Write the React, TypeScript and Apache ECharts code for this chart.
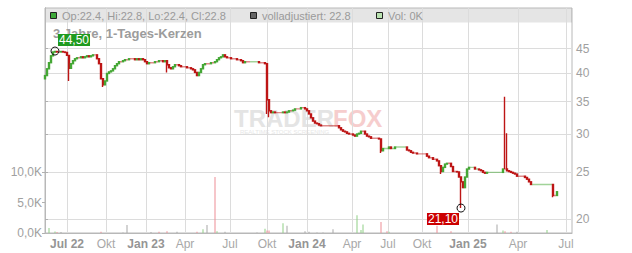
import React, { useEffect, useRef } from "react";
import * as echarts from "echarts";

// ---- data ----
// one candle per sample (≈ 2 trading days), sample index = x value
const firstOpen = 39.0;
const closes: number[] = [
  39.6, 40.9, 42.1, 43.5, 44.3, 44.4, 44.3, 44.3, 44.4, 44.3,
  44.2, 43.6, 41.0, 41.9, 42.5, 42.9, 43.1, 43.1, 43.3, 43.1,
  43.3, 43.5, 43.3, 43.5, 43.7, 43.7, 42.9, 41.9, 39.0, 37.9,
  38.6, 40.0, 40.3, 40.5, 40.9, 41.5, 41.9, 42.3, 42.3, 42.5,
  42.7, 42.7, 42.9, 42.9, 42.9, 42.7, 42.9, 42.7, 42.9, 42.7,
  42.3, 41.9, 42.1, 42.1, 42.1, 42.3, 42.3, 42.5, 42.5, 42.3,
  42.5, 41.7, 41.1, 40.9, 41.3, 41.7, 41.7, 41.5, 41.3, 41.3,
  41.3, 41.1, 41.1, 40.9, 40.7, 40.2, 39.6, 40.2, 40.9, 41.7,
  41.9, 41.9, 41.9, 42.1, 42.1, 42.3, 42.7, 43.1, 43.3, 43.7,
  43.3, 43.1, 43.1, 42.9, 42.9, 42.9, 42.7, 42.7, 42.5, 42.1,
  42.3, 42.3, 42.3, 42.3, 42.3, 42.3, 42.3, 42.1, 42.1, 42.1,
  41.9, 35.3, 33.5, 33.2, 33.3, 33.2, 33.2, 33.2, 33.2, 33.3,
  33.2, 33.3, 33.5, 33.5, 33.6, 33.8, 33.8, 33.8, 34.0, 34.0,
  33.8, 33.5, 33.0, 32.4, 31.9, 31.6, 31.5, 31.3, 31.2, 31.2,
  31.2, 31.2, 31.2, 31.2, 31.2, 31.2, 31.2, 30.9, 30.6, 30.4,
  30.3, 30.1, 30.0, 30.0, 29.85, 29.7, 30.0, 30.1, 30.4, 30.4,
  30.0, 29.7, 29.6, 29.4, 29.4, 29.4, 29.4, 29.3, 27.7, 28.0,
  28.0, 28.0, 28.2, 28.0, 28.0, 28.2, 28.2, 28.2, 28.2, 28.2,
  28.2, 27.8, 27.7, 27.5, 27.4, 27.4, 27.3, 27.3, 27.3, 27.3,
  27.3, 27.0, 26.8, 26.8, 26.6, 26.6, 26.4, 25.8, 25.1, 25.6,
  26.0, 26.1, 26.1, 25.7, 25.1, 25.1, 25.05, 24.45, 23.9, 23.25,
  24.45, 25.4, 25.6, 25.6, 25.6, 25.4, 25.4, 25.3, 25.2, 25.0,
  24.9, 25.0, 25.0, 25.0, 25.0, 25.0, 25.0, 25.0, 25.0, 25.4,
  25.4, 25.2, 25.1, 25.0, 24.9, 24.8, 24.55, 24.55, 24.55, 24.55,
  24.4, 24.2, 23.9, 23.6, 23.6, 23.6, 23.6, 23.6, 23.6, 23.6,
  23.6, 23.6, 23.6, 23.6, 22.4, 22.4, 22.8,
];
const wickLows: [number, number][] = [
  [12, 38.6], [29, 37.5], [61, 40.2], [111, 33.0], [112, 32.5],
  [168, 27.4], [198, 24.8], [208, 21.1], [254, 22.2],
];
const wickHighs: [number, number][] = [
  [5, 44.5], [111, 41.9], [230, 35.8], [231, 30.1],
];
// flat (unchanged) stretches that the reference draws green
const greenFlatRanges: [number, number][] = [
  [103, 106], [169, 180], [212, 216], [221, 228], [244, 253],
];

// volume (thousands), sample index, direction u/d/n
const volIdx = [2, 5, 6, 8, 28, 39, 41, 53, 57, 61, 66, 76, 79, 81, 85, 86, 90, 106, 110, 111, 112, 119, 121, 130, 132, 136, 139, 144, 156, 158, 159, 168, 171, 172, 196, 203, 226, 229, 230, 233, 236, 251];
const volK = [0.8, 0.25, 0.15, 0.15, 0.2, 0.1, 1.3, 0.15, 0.2, 0.3, 0.2, 0.2, 0.6, 1.3, 9.2, 0.3, 0.2, 0.1, 0.7, 0.4, 0.4, 1.6, 1.2, 0.3, 0.2, 0.1, 0.1, 0.6, 2.9, 0.5, 1.4, 1.8, 0.3, 0.2, 1.2, 0.3, 1.4, 0.4, 0.3, 0.2, 0.2, 0.5];
const volDir = ["u", "u", "d", "n", "d", "n", "n", "n", "d", "d", "n", "d", "u", "n", "d", "u", "n", "n", "u", "d", "d", "u", "n", "n", "n", "n", "n", "n", "u", "u", "u", "d", "d", "u", "d", "d", "n", "u", "d", "d", "n", "u"];

// axes
const monthTickIdx = [11, 30.5, 50.5, 70, 92.5, 111, 131, 153.5, 171.5, 188.5, 211.5, 236.5, 260.5];
const monthTickLabels = ["Jul 22", "Okt", "Jan 23", "Apr", "Jul", "Okt", "Jan 24", "Apr", "Jul", "Okt", "Jan 25", "Apr", "Jul"];
const priceTicks = [20, 25, 30, 35, 40, 45];
const volTicksK = [0, 5, 10];
const priceMin = 18.74;
const priceMax = 54.6;
const volMaxK = 36.9;
const xMin = 0;
const xMax = 263.5;

// ---- build ----
const lg = (v: number) => Math.log10(v);
const GREEN = "#45a735";
const RED = "#bd1515";
const FONT = "Liberation Sans, Arial, sans-serif";

const ohlc = closes.map((c, i) => {
  const o = i === 0 ? firstOpen : closes[i - 1];
  let lo = Math.min(o, c);
  let hi = Math.max(o, c);
  wickLows.forEach(([j, v]) => { if (j === i) lo = Math.min(lo, v); });
  wickHighs.forEach(([j, v]) => { if (j === i) hi = Math.max(hi, v); });
  return { o, c, lo, hi };
});
const isGreenFlat = (i: number) => greenFlatRanges.some(([a, b]) => i >= a && i <= b);
const candles = ohlc.map((d, i) => {
  const value = [i, lg(d.o), lg(d.c), lg(d.lo), lg(d.hi)];
  return isGreenFlat(i) ? { value, itemStyle: { borderColorDoji: GREEN } } : { value };
});

let hiIdx = 0, loIdx = 0;
ohlc.forEach((d, i) => {
  if (d.hi > ohlc[hiIdx].hi) hiIdx = i;
  if (d.lo < ohlc[loIdx].lo) loIdx = i;
});
const fmtDe = (v: number) => v.toFixed(2).replace(".", ",");

const volColor: Record<string, string> = { u: "#8fcf86", d: "#ee8e96", n: "#a8a8a8" };
const volData = volIdx.map((i, k) => ({
  value: [i, volK[k]],
  itemStyle: { color: volColor[volDir[k]] },
}));

const last = ohlc[ohlc.length - 1];
const lastVolK = volIdx.includes(closes.length - 1) ? volK[volIdx.indexOf(closes.length - 1)] : 0;
const legend1 = `Op:${last.o.toFixed(1)}, Hi:${last.hi.toFixed(1)}, Lo:${last.lo.toFixed(1)}, Cl:${last.c.toFixed(1)}`;
const legend2 = `volladjustiert: ${last.c.toFixed(1)}`;
const legend3 = `Vol: ${lastVolK}K`;

const option: any = {
  animation: false,
  textStyle: { fontFamily: FONT },
  title: {
    text: "3 Jahre, 1-Tages-Kerzen",
    left: 53,
    top: 27,
    padding: 0,
    z: 1,
    textStyle: { color: "#9c9c9c", fontSize: 13, fontWeight: "bold", fontFamily: FONT },
  },
  grid: {
    left: 45, right: 60, top: 8, bottom: 20,
    show: true, borderColor: "#b8b8b8", borderWidth: 1, backgroundColor: "transparent",
  },
  xAxis: {
    type: "value",
    min: xMin,
    max: xMax,
    axisLine: { show: true, lineStyle: { color: "#b8b8b8" } },
    axisTick: { show: false, customValues: monthTickIdx },
    splitLine: { show: true, lineStyle: { color: "#dcdcdc", width: 1 } },
    axisLabel: {
      customValues: monthTickIdx,
      margin: 5,
      fontSize: 12,
      formatter: (v: number) => {
        const k = monthTickIdx.findIndex((t) => Math.abs(t - v) < 0.01);
        const lab = k >= 0 ? monthTickLabels[k] : "";
        return /\d/.test(lab) ? `{b|${lab}}` : `{n|${lab}}`;
      },
      rich: {
        b: { fontWeight: "bold", color: "#959595", fontSize: 12, fontFamily: FONT },
        n: { color: "#a8a8a8", fontSize: 12, fontFamily: FONT },
      },
    },
  },
  yAxis: [
    {
      type: "value",
      position: "right",
      min: lg(priceMin),
      max: lg(priceMax),
      axisLine: { show: true, lineStyle: { color: "#b0b0b0" } },
      axisTick: { show: true, length: 3, customValues: priceTicks.map(lg), lineStyle: { color: "#b0b0b0" } },
      splitLine: { show: true, lineStyle: { color: "#dcdcdc", width: 1 } },
      axisLabel: {
        customValues: priceTicks.map(lg),
        margin: 4,
        color: "#a0a0a0",
        fontSize: 12,
        formatter: (v: number) => String(Math.round(Math.pow(10, v))),
      },
    },
    {
      type: "value",
      position: "left",
      min: 0,
      max: volMaxK,
      axisLine: { show: true, lineStyle: { color: "#b8b8b8" } },
      axisTick: { show: true, length: 3, customValues: volTicksK, lineStyle: { color: "#b0b0b0" } },
      splitLine: { show: false },
      axisLabel: {
        customValues: volTicksK,
        margin: 3,
        color: "#a0a0a0",
        fontSize: 12,
        formatter: (v: number) => v.toFixed(1).replace(".", ",") + "K",
      },
    },
  ],
  graphic: [
    { type: "rect", z: 0, shape: { x: 45, y: 8.5, width: 527, height: 14 }, style: { fill: "rgba(0,0,0,0.1)" } },
    { type: "rect", z: 1, shape: { x: 50.5, y: 12.5, width: 6, height: 6 }, style: { fill: "#3ea93a", stroke: "#222", lineWidth: 1 } },
    { type: "text", z: 1, x: 62, y: 16, style: { text: legend1, fill: "#9a9a9a", fontSize: 11, fontFamily: FONT, verticalAlign: "middle" } },
    { type: "rect", z: 1, shape: { x: 250.5, y: 12.5, width: 6, height: 6 }, style: { fill: "#666", stroke: "#222", lineWidth: 1 } },
    { type: "text", z: 1, x: 262, y: 16, style: { text: legend2, fill: "#9a9a9a", fontSize: 11, fontFamily: FONT, verticalAlign: "middle" } },
    { type: "rect", z: 1, shape: { x: 376.5, y: 12.5, width: 6, height: 6 }, style: { fill: "#b9e2b0", stroke: "#222", lineWidth: 1 } },
    { type: "text", z: 1, x: 388, y: 16, style: { text: legend3, fill: "#9a9a9a", fontSize: 11, fontFamily: FONT, verticalAlign: "middle" } },
    // watermark
    { type: "text", z: 0, x: 234, y: 106, style: { text: "TRADER", fill: "#e4e4e4", fontSize: 24, fontWeight: "bold", fontFamily: FONT } },
    { type: "text", z: 0, x: 333, y: 106, style: { text: "FOX", fill: "#f6cdcd", fontSize: 24, fontWeight: "bold", fontFamily: FONT } },
    { type: "text", z: 0, x: 240, y: 129, style: { text: "REALTIME STOCK SCREENING", fill: "#e6e6e6", fontSize: 6, fontFamily: FONT } },
  ],
  series: [
    {
      type: "bar",
      xAxisIndex: 0,
      yAxisIndex: 1,
      barWidth: 1,
      data: volData,
      z: 1,
    },
    {
      type: "candlestick",
      xAxisIndex: 0,
      yAxisIndex: 0,
      barWidth: 1.6,
      data: candles,
      z: 3,
      itemStyle: {
        color: GREEN,
        color0: RED,
        borderColor: GREEN,
        borderColor0: RED,
        borderColorDoji: RED,
        borderWidth: 1.4,
      },
      markPoint: {
        symbol: "circle",
        symbolSize: 8,
        z: 6,
        itemStyle: { color: "rgba(0,0,0,0)", borderColor: "#111", borderWidth: 1 },
        data: [
          {
            coord: [hiIdx, lg(ohlc[hiIdx].hi)],
            label: {
              show: true, position: "inside", formatter: fmtDe(ohlc[hiIdx].hi), offset: [19, -11],
              color: "#fff", fontSize: 12, fontFamily: FONT, backgroundColor: "#1f9a1f", padding: [1, 1, 0, 1], lineHeight: 11,
            },
          },
          {
            coord: [loIdx, lg(ohlc[loIdx].lo)],
            label: {
              show: true, position: "inside", formatter: fmtDe(ohlc[loIdx].lo), offset: [-18, 11],
              color: "#fff", fontSize: 12, fontFamily: FONT, backgroundColor: "#cc0000", padding: [1, 1, 0, 1], lineHeight: 11,
            },
          },
        ],
      },
    },
  ],
};

export default function App() {
  const ref = useRef<HTMLDivElement>(null);
  useEffect(() => {
    const chart = echarts.init(ref.current!, null, { renderer: "svg" });
    chart.setOption(option);
    return () => chart.dispose();
  }, []);
  return (
    <div
      ref={ref}
      style={{ position: "absolute", left: 0, top: 0, width: 632, height: 253 }}
    />
  );
}
